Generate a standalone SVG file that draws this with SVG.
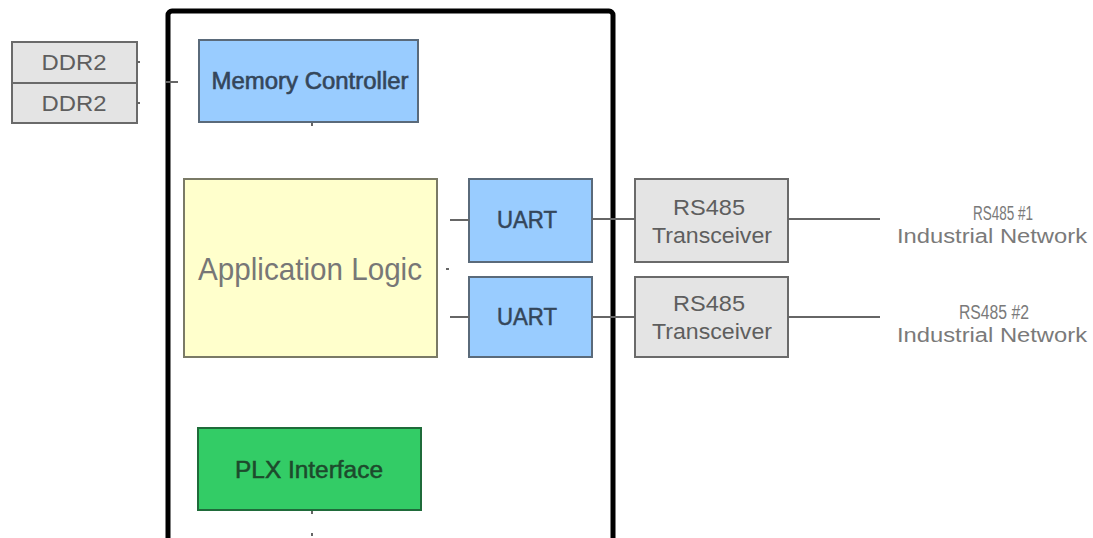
<svg xmlns="http://www.w3.org/2000/svg" width="1093" height="538" viewBox="0 0 1093 538">
<style>
text{font-family:"Liberation Sans",Arial,sans-serif;text-anchor:middle}
.gray{fill:#e4e4e4;stroke:#6a6a6a;stroke-width:2}
.blue{fill:#99ccff;stroke:#5a6a7a;stroke-width:2}
.lbl{font-size:23px;fill:#34465a}
.glbl{font-size:22px;fill:#5e5e5e}
.conn{stroke:#666;stroke-width:2;fill:none}
.net{font-size:20px;fill:#7a7a7a}
</style>
<rect id="fpga" x="168" y="11" width="445" height="540" rx="4" fill="#fff" stroke="#000" stroke-width="5"/>
<g id="ddr2-1"><rect class="gray" x="12" y="42" width="125" height="41"/><text class="glbl" x="74" y="70" font-size="18" textLength="65" lengthAdjust="spacingAndGlyphs">DDR2</text></g>
<g id="ddr2-2"><rect class="gray" x="12" y="83" width="125" height="40"/><text class="glbl" x="74" y="111" font-size="18" textLength="65" lengthAdjust="spacingAndGlyphs">DDR2</text></g>
<g id="memctrl"><rect class="blue" x="199" y="40" width="219" height="82"/><text class="lbl" x="310" y="89" textLength="197" lengthAdjust="spacingAndGlyphs" stroke="#34465a" stroke-width="0.6">Memory Controller</text></g>
<g id="applogic"><rect x="184" y="179" width="253" height="178" fill="#ffffcc" stroke="#7a7a66" stroke-width="2"/><text x="310" y="280" font-size="32" fill="#777" textLength="224" lengthAdjust="spacingAndGlyphs">Application Logic</text></g>
<g id="uart1"><rect class="blue" x="469" y="179" width="123" height="83"/><text class="lbl" x="527" y="228" textLength="60" lengthAdjust="spacingAndGlyphs" stroke="#34465a" stroke-width="0.5">UART</text></g>
<g id="uart2"><rect class="blue" x="469" y="277" width="123" height="80"/><text class="lbl" x="527" y="325" textLength="60" lengthAdjust="spacingAndGlyphs" stroke="#34465a" stroke-width="0.5">UART</text></g>
<g id="rs485-1"><rect class="gray" x="635" y="179" width="153" height="83"/><text class="glbl" x="709" y="215" textLength="72" lengthAdjust="spacingAndGlyphs">RS485</text><text class="glbl" x="712" y="243" textLength="120" lengthAdjust="spacingAndGlyphs">Transceiver</text></g>
<g id="rs485-2"><rect class="gray" x="635" y="277" width="153" height="80"/><text class="glbl" x="709" y="311" textLength="72" lengthAdjust="spacingAndGlyphs">RS485</text><text class="glbl" x="712" y="339" textLength="120" lengthAdjust="spacingAndGlyphs">Transceiver</text></g>
<g id="plx"><rect x="198" y="428" width="223" height="82" fill="#33cc66" stroke="#1f6b3a" stroke-width="2"/><text x="309" y="478" font-size="23" fill="#1d4a2c" textLength="148" lengthAdjust="spacingAndGlyphs" stroke="#1d4a2c" stroke-width="0.5">PLX Interface</text></g>
<g id="net1"><text class="net" x="1003" y="220" font-size="17" textLength="60" lengthAdjust="spacingAndGlyphs">RS485 #1</text><text class="net" x="992" y="243" textLength="190" lengthAdjust="spacingAndGlyphs">Industrial Network</text></g>
<g id="net2"><text class="net" x="994" y="319" font-size="17" textLength="70" lengthAdjust="spacingAndGlyphs">RS485 #2</text><text class="net" x="992" y="342" textLength="190" lengthAdjust="spacingAndGlyphs">Industrial Network</text></g>
<g id="connectors">
<line class="conn" x1="137" y1="62" x2="140" y2="62"/>
<line class="conn" x1="137" y1="103" x2="140" y2="103"/>
<line class="conn" x1="166" y1="82" x2="178" y2="82"/>
<line class="conn" x1="450" y1="220" x2="469" y2="220"/>
<line class="conn" x1="450" y1="317" x2="469" y2="317"/>
<line class="conn" x1="446" y1="269" x2="449" y2="269"/>
<line class="conn" x1="592" y1="219" x2="635" y2="219"/>
<line class="conn" x1="592" y1="317" x2="635" y2="317"/>
<line class="conn" x1="788" y1="219" x2="880" y2="219"/>
<line class="conn" x1="788" y1="317" x2="880" y2="317"/>
<line class="conn" x1="312" y1="123" x2="312" y2="126"/>
<line class="conn" x1="312" y1="511" x2="312" y2="514"/>
<line class="conn" x1="312" y1="533" x2="312" y2="536"/>
</g>
</svg>
